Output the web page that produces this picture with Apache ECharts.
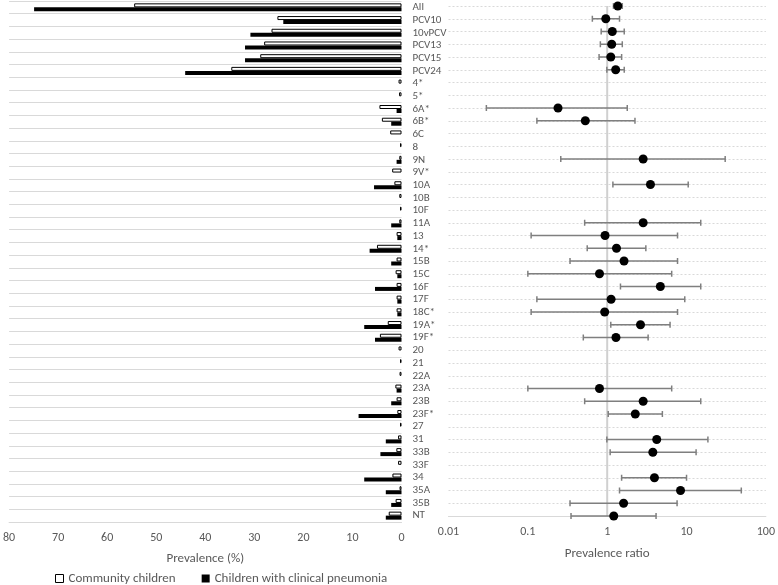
<!DOCTYPE html>
<html><head><meta charset="utf-8">
<script src="https://cdn.jsdelivr.net/npm/echarts@6/dist/echarts.min.js"></script>
<style>html,body{margin:0;padding:0;background:#fff}#c{width:778px;height:585px}</style>
</head><body><div id="c"></div>
<script>
const categories = ['All','PCV10','10vPCV','PCV13','PCV15','PCV24','4*','5*','6A*','6B*','6C','8','9N','9V*','10A','10B','10F','11A','13','14*','15B','15C','16F','17F','18C*','19A*','19F*','20','21','22A','23A','23B','23F*','27','31','33B','33F','34','35A','35B','NT'];
const community = [54.5,25.3,26.5,28.0,28.8,34.7,0.6,0.5,4.5,4.0,2.3,0.3,0.45,1.9,1.45,0.45,0.3,0.45,1.0,5.0,1.0,1.2,1.0,1.0,1.0,2.8,4.4,0.6,0.3,0.4,1.25,1.0,0.85,0.3,0.7,1.05,0.7,1.85,0.4,1.2,2.6];
const pneumonia = [74.9,24.1,30.8,31.9,31.9,44.1,0,0,1.0,2.1,0,0,1.0,0,5.6,0,0,2.1,0.85,6.5,2.1,0.85,5.4,0.85,0.85,7.6,5.4,0,0,0,1.0,2.1,8.75,0,3.2,4.3,0,7.6,3.2,2.1,3.2];
const ratio = [1.36,0.96,1.16,1.14,1.11,1.28,null,null,0.24,0.53,null,null,2.84,null,3.51,null,null,2.84,0.94,1.31,1.63,0.80,4.68,1.12,0.93,2.63,1.29,null,null,null,0.80,2.84,2.26,null,4.21,3.76,null,3.94,8.4,1.61,1.21];
const ciLow = [1.2,0.65,0.84,0.82,0.79,0.99,null,null,0.030,0.13,null,null,0.26,null,1.18,null,null,0.52,0.11,0.56,0.34,0.10,1.47,0.13,0.11,1.11,0.50,null,null,null,0.10,0.52,1.03,null,0.99,1.09,null,1.52,1.43,0.34,0.35];
const ciHigh = [1.55,1.43,1.64,1.55,1.52,1.64,null,null,1.79,2.24,null,null,30.7,null,10.5,null,null,15.1,7.7,3.07,7.7,6.5,15.1,9.5,7.7,6.2,3.28,null,null,null,6.5,15.1,4.96,null,18.6,13.2,null,10.0,49,7.6,4.13];
const referenceRatio = 1;

const FONT = 'Carlito, Lato, sans-serif';
const TXT = '#595959';

const pointData = [];
const ciData = [];
categories.forEach((c, i) => {
  if (ratio[i] != null) {
    pointData.push([ratio[i], i]);
    ciData.push([ciLow[i], ciHigh[i], i]);
  }
});

const chart = echarts.init(document.getElementById('c'), null, {renderer: 'canvas'});
chart.setOption({
  animation: false,
  textStyle: {fontFamily: FONT, color: TXT},
  grid: [
    {left: 6, right: 376.5, top: 1, bottom: 63},
    {left: 448.5, right: 9.5, top: 6, bottom: 69}
  ],
  legend: {
    top: 567, left: 50,
    itemWidth: 8, itemHeight: 8, itemGap: 26,
    textStyle: {fontFamily: FONT, fontSize: 13, color: TXT},
    data: [
      {name: 'Community children', icon: 'rect', itemStyle: {color: '#fff', borderColor: '#000', borderWidth: 1}},
      {name: 'Children with clinical pneumonia', icon: 'rect', itemStyle: {color: '#000'}}
    ]
  },
  xAxis: [
    {
      gridIndex: 0, type: 'value', inverse: true, min: 0, max: 80, interval: 10,
      name: 'Prevalence (%)', nameLocation: 'middle', nameGap: 30,
      nameTextStyle: {fontFamily: FONT, fontSize: 13, color: TXT},
      axisLine: {show: true, lineStyle: {color: '#d9d9d9', width: 1}},
      axisTick: {show: false}, splitLine: {show: false},
      axisLabel: {fontFamily: FONT, fontSize: 12, color: TXT, margin: 10}
    },
    {
      gridIndex: 1, type: 'log', logBase: 10, min: 0.01, max: 100,
      name: 'Prevalence ratio', nameLocation: 'middle', nameGap: 31,
      nameTextStyle: {fontFamily: FONT, fontSize: 13, color: TXT},
      axisLine: {show: true, lineStyle: {color: '#d9d9d9', width: 1}},
      axisTick: {show: false}, splitLine: {show: false},
      axisLabel: {fontFamily: FONT, fontSize: 12, color: TXT, margin: 10,
        formatter: v => String(+(+v).toPrecision(6))}
    }
  ],
  yAxis: [
    {
      gridIndex: 0, type: 'category', inverse: true, data: categories, position: 'right',
      axisLine: {show: false}, axisTick: {show: false},
      axisLabel: {interval: 0, fontFamily: FONT, fontSize: 11, color: TXT, align: 'left', margin: 11},
      splitLine: {show: true, interval: 0, lineStyle: {color: '#d9d9d9', width: 1}}
    },
    {
      gridIndex: 1, type: 'category', inverse: true, data: categories, boundaryGap: false,
      axisLine: {show: false}, axisTick: {show: false}, axisLabel: {show: false},
      splitLine: {show: true, interval: 0, lineStyle: {color: '#d9d9d9', width: 1, type: [2, 2]}}
    }
  ],
  series: [
    {
      name: 'Community children', type: 'bar', xAxisIndex: 0, yAxisIndex: 0,
      data: community, barWidth: 4, barGap: '0%',
      itemStyle: {color: '#fff', borderColor: '#000', borderWidth: 1}
    },
    {
      name: 'Children with clinical pneumonia', type: 'bar', xAxisIndex: 0, yAxisIndex: 0,
      data: pneumonia, barWidth: 4, barGap: '0%',
      itemStyle: {color: '#000'}
    },
    {
      type: 'line', xAxisIndex: 1, yAxisIndex: 1, silent: true, symbol: 'none', z: 1,
      data: [[referenceRatio, 0], [referenceRatio, categories.length - 1]],
      lineStyle: {color: '#d0d0d0', width: 2}
    },
    {
      type: 'custom', xAxisIndex: 1, yAxisIndex: 1, data: ciData, silent: true,
      renderItem: function (params, api) {
        const y = api.value(2);
        const a = api.coord([api.value(0), y]);
        const b = api.coord([api.value(1), y]);
        const h = 3;
        const st = {stroke: '#7f7f7f', lineWidth: 1.5};
        return {type: 'group', children: [
          {type: 'line', shape: {x1: a[0], y1: a[1], x2: b[0], y2: b[1]}, style: st},
          {type: 'line', shape: {x1: a[0], y1: a[1] - h, x2: a[0], y2: a[1] + h}, style: st},
          {type: 'line', shape: {x1: b[0], y1: b[1] - h, x2: b[0], y2: b[1] + h}, style: st}
        ]};
      },
      z: 3
    },
    {
      type: 'scatter', xAxisIndex: 1, yAxisIndex: 1, data: pointData,
      symbol: 'circle', symbolSize: 9, itemStyle: {color: '#000', opacity: 1}, z: 4
    }
  ]
});
</script>
</body></html>
